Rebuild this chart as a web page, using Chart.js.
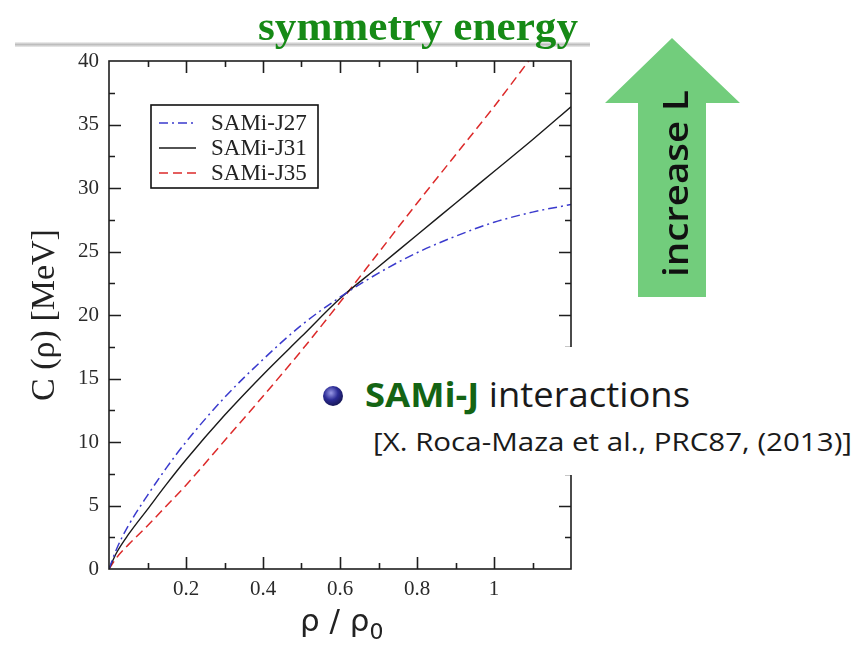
<!DOCTYPE html>
<html lang="en">
  <head>
    <meta charset="UTF-8" />
    <script src="https://cdn.jsdelivr.net/npm/chart.js"></script>
    <style>
      html, body { margin: 0; padding: 0; background: #fff; }
      #wrap { position: relative; width: 866px; height: 652px; }
      #wrap canvas, #wrap svg { position: absolute; left: 0; top: 0; }
      #wrap svg { pointer-events: none; }
    </style>
  </head>
  <body>
    <div id="wrap">
      <canvas id="symChart" width="866" height="652"></canvas>
      <svg width="866" height="652" viewBox="0 0 866 652">
        <defs>
          <linearGradient id="ruleFill" x1="0" y1="0" x2="0" y2="1">
            <stop offset="0" stop-color="#f2f2f2" />
            <stop offset="0.5" stop-color="#bdbdbd" />
            <stop offset="1" stop-color="#ececec" />
          </linearGradient>
          <radialGradient id="ball" cx="0.4" cy="0.35" r="0.7">
            <stop offset="0" stop-color="#9a9ae6" />
            <stop offset="0.5" stop-color="#2c2c96" />
            <stop offset="1" stop-color="#14144e" />
          </radialGradient>
        </defs>

        <!-- heading and rule -->
        <rect x="15" y="42" width="575" height="5" fill="url(#ruleFill)" />
        <text x="258" y="40" textLength="320" lengthAdjust="spacingAndGlyphs" font-family="Liberation Serif"
              font-weight="bold" font-size="40" fill="#168a16">symmetry energy</text>

        <!-- x axis title with a real subscript -->
        <text x="300" y="631" font-family="DejaVu Sans" font-size="31" fill="#222">ρ / ρ<tspan font-size="22" dy="8">0</tspan></text>

        <!-- arrow -->
        <polygon points="672,38 740,103 706,103 706,297 638,297 638,103 605,103" fill="#72cd7c" />
        <text transform="translate(688,277) rotate(-90)" textLength="187" lengthAdjust="spacingAndGlyphs"
              font-family="Open Sans" font-weight="600" font-size="34" fill="#111">increase L</text>

        <!-- note box -->
        <rect x="305" y="347" width="561" height="128" fill="#fff" />
        <circle cx="333" cy="396" r="10" fill="url(#ball)" />
        <text x="365" y="407" textLength="325" lengthAdjust="spacingAndGlyphs" font-family="Open Sans"
              font-size="34" fill="#1a1a1a"><tspan font-weight="bold" fill="#146414">SAMi-J</tspan> interactions</text>
        <text x="373" y="451" textLength="479" lengthAdjust="spacingAndGlyphs" font-family="Open Sans"
              font-size="25" fill="#1a1a1a">[X. Roca-Maza et al., PRC87, (2013)]</text>
      </svg>
    </div>

    <script>
      // density rho/rho0 and symmetry energy C(rho) in MeV
      const rho = [0, 0.02, 0.05, 0.1, 0.15, 0.2, 0.3, 0.4, 0.5, 0.6, 0.7, 0.8, 0.9, 1.0, 1.1, 1.2];
      const samiJ27 = [0, 1.6, 3.4, 5.8, 8.0, 10.0, 13.5, 16.5, 19.2, 21.4, 23.3, 24.9, 26.2, 27.3, 28.1, 28.7];
      const samiJ31 = [0, 1.3, 2.7, 4.7, 6.7, 8.6, 12.1, 15.3, 18.3, 21.3, 23.8, 26.3, 28.8, 31.3, 33.8, 36.4];
      const samiJ35 = [0, 0.9, 1.9, 3.4, 5.0, 6.6, 10.1, 13.6, 17.2, 21.0, 24.9, 28.8, 32.6, 36.4, 40.4, 44.4];
      const seriesNames = ["SAMi-J27", "SAMi-J31", "SAMi-J35"];

      const toPoints = (ys) => rho.map((x, i) => ({ x: x, y: ys[i] }));

      // frame on all four sides with inward ticks
      const frameTicks = {
        id: "frameTicks",
        afterDatasetsDraw(chart) {
          const { ctx, chartArea: a, scales } = chart;
          const x = scales.x, y = scales.y;
          ctx.save();
          ctx.strokeStyle = "#1e1e1e";
          ctx.lineWidth = 1.6;
          ctx.strokeRect(a.left, a.top, a.right - a.left, a.bottom - a.top);
          ctx.beginPath();
          x.ticks.forEach((t) => {
            const k = Math.round(t.value * 10);
            if (k <= 0 || k >= 12) return;
            const px = Math.round(x.getPixelForValue(t.value)) + 0.5;
            const len = k % 2 === 0 ? 12 : 6;
            ctx.moveTo(px, a.bottom); ctx.lineTo(px, a.bottom - len);
            ctx.moveTo(px, a.top); ctx.lineTo(px, a.top + len);
          });
          y.ticks.forEach((t) => {
            if (t.value <= 0 || t.value >= 40) return;
            const py = Math.round(y.getPixelForValue(t.value)) + 0.5;
            const len = t.value % 5 === 0 ? 12 : 6;
            ctx.moveTo(a.left, py); ctx.lineTo(a.left + len, py);
            ctx.moveTo(a.right, py); ctx.lineTo(a.right - len, py);
          });
          ctx.stroke();
          ctx.restore();
        },
      };

      // boxed legend in the upper left of the plot
      const boxLegend = {
        id: "boxLegend",
        afterDraw(chart) {
          const ctx = chart.ctx;
          const bx = 151, by = 105, bw = 167, bh = 83;
          ctx.save();
          ctx.fillStyle = "#fff";
          ctx.fillRect(bx, by, bw, bh);
          ctx.strokeStyle = "#111";
          ctx.lineWidth = 1.6;
          ctx.strokeRect(bx, by, bw, bh);
          ctx.font = "23px 'Liberation Serif'";
          ctx.textBaseline = "middle";
          chart.data.datasets.forEach((ds, i) => {
            const ry = by + 18 + i * 25;
            ctx.strokeStyle = ds.borderColor;
            ctx.lineWidth = ds.borderWidth;
            ctx.setLineDash(ds.borderDash || []);
            ctx.beginPath();
            ctx.moveTo(159, ry); ctx.lineTo(196, ry);
            ctx.stroke();
            ctx.setLineDash([]);
            ctx.fillStyle = "#222";
            ctx.fillText(ds.label, 211, ry + 1);
          });
          ctx.restore();
        },
      };

      const ctx = document.getElementById("symChart").getContext("2d");
      new Chart(ctx, {
        type: "line",
        data: {
          datasets: [
            {
              label: seriesNames[0],
              data: toPoints(samiJ27),
              borderColor: "#3a3acd",
              borderWidth: 1.5,
              borderDash: [9, 4, 2, 4],
            },
            {
              label: seriesNames[1],
              data: toPoints(samiJ31),
              borderColor: "#1a1a1a",
              borderWidth: 1.4,
            },
            {
              label: seriesNames[2],
              data: toPoints(samiJ35),
              borderColor: "#dc2a2a",
              borderWidth: 1.5,
              borderDash: [9, 5],
            },
          ],
        },
        options: {
          responsive: false,
          animation: false,
          devicePixelRatio: 1,
          layout: { padding: { left: 0, top: 61, right: 295, bottom: 0 } },
          elements: {
            point: { radius: 0 },
            line: { cubicInterpolationMode: "monotone", fill: false },
          },
          plugins: { legend: { display: false }, tooltip: { enabled: false } },
          scales: {
            x: {
              type: "linear",
              min: 0,
              max: 1.2,
              grid: { display: false },
              border: { display: false },
              afterFit: (s) => { s.height = 83; },
              ticks: {
                stepSize: 0.1,
                autoSkip: false,
                maxRotation: 0,
                padding: 0,
                color: "#2a2a2a",
                font: { family: "Liberation Serif", size: 21 },
                callback: (v) => {
                  const k = Math.round(v * 10);
                  return k % 2 === 0 && k > 0 && k < 12 ? String(+v.toFixed(1)) : "";
                },
              },
            },
            y: {
              min: 0,
              max: 40,
              grid: { display: false },
              border: { display: false },
              afterFit: (s) => { s.width = 109; },
              ticks: {
                stepSize: 2.5,
                autoSkip: false,
                padding: 2,
                color: "#2a2a2a",
                font: { family: "Liberation Serif", size: 21 },
                callback: (v) => (v % 5 === 0 ? v : ""),
              },
              title: {
                display: true,
                text: "C (ρ) [MeV]",
                color: "#222",
                font: { family: "Liberation Serif", size: 34 },
                padding: { top: 25, bottom: 0 },
              },
            },
          },
        },
        plugins: [frameTicks, boxLegend],
      });
    </script>
  </body>
</html>
